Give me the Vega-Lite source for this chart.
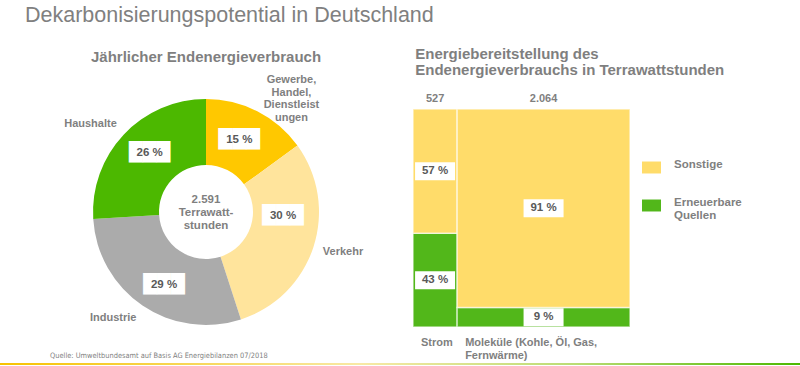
{
  "$schema": "https://vega.github.io/schema/vega-lite/v6.json",
  "background": "white",
  "padding": {"left": 0, "top": 4, "right": 0, "bottom": 0},
  "bounds": "flush",
  "spacing": 254,
  "title": {
    "text": "Dekarbonisierungspotential in Deutschland",
    "anchor": "start",
    "frame": "group",
    "dx": 25,
    "fontSize": 21.5,
    "fontWeight": "normal",
    "font": "Liberation Sans",
    "color": "#808080",
    "offset": 21
  },
  "config": {
    "view": {"stroke": null},
    "font": "Liberation Sans",
    "locale": {"number": {"decimal": ",", "thousands": ".", "grouping": [3], "currency": ["", " €"]}}
  },
  "vconcat": [
    {
      "hconcat": [
        {
          "width": 412,
          "height": 206,
          "title": {
            "text": "Jährlicher Endenergieverbrauch",
            "anchor": "middle",
            "fontSize": 15,
            "fontWeight": "bold",
            "color": "#7f7f7f",
            "offset": 3
          },
          "data": {
            "values": [
              {"sector": "Gewerbe, Handel, Dienstleistungen", "name": "Gewerbe,\nHandel,\nDienstleist\nungen", "o": 1, "pct": 15, "label": "15 %"},
              {"sector": "Verkehr", "name": "Verkehr", "o": 2, "pct": 30, "label": "30 %"},
              {"sector": "Industrie", "name": "Industrie", "o": 3, "pct": 29, "label": "29 %"},
              {"sector": "Haushalte", "name": "Haushalte", "o": 4, "pct": 26, "label": "26 %"}
            ]
          },
          "encoding": {
            "theta": {"field": "pct", "type": "quantitative", "stack": true},
            "order": {"field": "o", "type": "quantitative"},
            "detail": {"field": "sector", "type": "nominal"}
          },
          "layer": [
            {
              "mark": {"type": "arc", "outerRadius": 113, "innerRadius": 47},
              "encoding": {
                "color": {
                  "field": "sector",
                  "type": "nominal",
                  "scale": {
                    "domain": ["Gewerbe, Handel, Dienstleistungen", "Verkehr", "Industrie", "Haushalte"],
                    "range": ["#FFC800", "#FFE49C", "#ABABAB", "#4CB800"]
                  },
                  "legend": null
                }
              }
            },
            {
              "mark": {"type": "text", "radius": 80, "dx": -3, "dy": -1, "font": "DejaVu Sans", "fontSize": 18, "color": "white", "baseline": "middle"},
              "encoding": {"text": {"condition": {"test": "datum.o === 1", "value": "███"}, "value": ""}}
            },
            {
              "mark": {"type": "text", "radius": 80, "dx": 1, "dy": -21, "font": "DejaVu Sans", "fontSize": 18, "color": "white", "baseline": "middle"},
              "encoding": {"text": {"condition": {"test": "datum.o === 2", "value": "███"}, "value": ""}}
            },
            {
              "mark": {"type": "text", "radius": 80, "dx": 3, "dy": 7, "font": "DejaVu Sans", "fontSize": 18, "color": "white", "baseline": "middle"},
              "encoding": {"text": {"condition": {"test": "datum.o === 3", "value": "███"}, "value": ""}}
            },
            {
              "mark": {"type": "text", "radius": 80, "dx": 2, "dy": -4, "font": "DejaVu Sans", "fontSize": 18, "color": "white", "baseline": "middle"},
              "encoding": {"text": {"condition": {"test": "datum.o === 4", "value": "███"}, "value": ""}}
            },
            {
              "mark": {"type": "text", "radius": 80, "dx": -3, "dy": -1, "fontSize": 11.5, "fontWeight": "bold", "color": "#595959", "baseline": "middle"},
              "encoding": {"text": {"condition": {"test": "datum.o === 1", "field": "label"}, "value": ""}}
            },
            {
              "mark": {"type": "text", "radius": 80, "dx": 1, "dy": -21, "fontSize": 11.5, "fontWeight": "bold", "color": "#595959", "baseline": "middle"},
              "encoding": {"text": {"condition": {"test": "datum.o === 2", "field": "label"}, "value": ""}}
            },
            {
              "mark": {"type": "text", "radius": 80, "dx": 3, "dy": 7, "fontSize": 11.5, "fontWeight": "bold", "color": "#595959", "baseline": "middle"},
              "encoding": {"text": {"condition": {"test": "datum.o === 3", "field": "label"}, "value": ""}}
            },
            {
              "mark": {"type": "text", "radius": 80, "dx": 2, "dy": -4, "fontSize": 11.5, "fontWeight": "bold", "color": "#595959", "baseline": "middle"},
              "encoding": {"text": {"condition": {"test": "datum.o === 4", "field": "label"}, "value": ""}}
            },
            {
              "mark": {"type": "text", "radius": 142, "dx": 21, "dy": -5, "fontSize": 11, "fontWeight": "bold", "color": "#7f7f7f", "baseline": "middle", "lineBreak": "\n", "lineHeight": 12.4},
              "encoding": {"text": {"condition": {"test": "datum.o === 1", "field": "name"}, "value": ""}}
            },
            {
              "mark": {"type": "text", "radius": 142, "dx": 2, "dy": -4, "fontSize": 11, "fontWeight": "bold", "color": "#7f7f7f", "baseline": "middle"},
              "encoding": {"text": {"condition": {"test": "datum.o === 2", "field": "name"}, "value": ""}}
            },
            {
              "mark": {"type": "text", "radius": 142, "dx": -13, "dy": -11, "fontSize": 11, "fontWeight": "bold", "color": "#7f7f7f", "baseline": "middle"},
              "encoding": {"text": {"condition": {"test": "datum.o === 3", "field": "name"}, "value": ""}}
            },
            {
              "mark": {"type": "text", "radius": 142, "dx": -12, "dy": 9, "fontSize": 11, "fontWeight": "bold", "color": "#7f7f7f", "baseline": "middle"},
              "encoding": {"text": {"condition": {"test": "datum.o === 4", "field": "name"}, "value": ""}}
            },
            {
              "data": {"values": [{"t": "2.591\nTerrawatt-\nstunden"}]},
              "mark": {"type": "text", "dy": -12, "fontSize": 11.5, "fontWeight": "bold", "color": "#7f7f7f", "baseline": "middle", "lineBreak": "\n", "lineHeight": 13},
              "encoding": {"text": {"field": "t", "type": "nominal"}, "theta": null, "order": null, "detail": null}
            }
          ]
        },
        {
          "width": 217,
          "height": 218,
          "title": {
            "text": ["Energiebereitstellung des", "Endenergieverbrauchs in Terrawattstunden"],
            "anchor": "start",
            "dx": 3,
            "fontSize": 15,
            "fontWeight": "bold",
            "color": "#7f7f7f",
            "lineHeight": 16,
            "offset": 15
          },
          "data": {
            "values": [
              {"cat": "Strom", "source": "Erneuerbare Quellen", "pct": 43, "total": 527, "label": "43 %"},
              {"cat": "Strom", "source": "Sonstige", "pct": 57, "total": 527, "label": "57 %"},
              {"cat": "Moleküle (Kohle, Öl, Gas,\nFernwärme)", "source": "Erneuerbare Quellen", "pct": 9, "total": 2064, "label": "9 %"},
              {"cat": "Moleküle (Kohle, Öl, Gas,\nFernwärme)", "source": "Sonstige", "pct": 91, "total": 2064, "label": "91 %"}
            ]
          },
          "transform": [
            {"stack": "total", "groupby": ["source"], "sort": [{"field": "cat", "order": "descending"}], "as": ["x0", "x1"]},
            {"stack": "pct", "groupby": ["cat"], "sort": [{"field": "source", "order": "ascending"}], "as": ["y0", "y1"]}
          ],
          "layer": [
            {
              "mark": {"type": "rect", "stroke": "white", "strokeWidth": 1.5, "strokeOpacity": 0.6},
              "encoding": {
                "x": {"field": "x0", "type": "quantitative", "scale": {"domain": [0, 2591], "nice": false}, "axis": null},
                "x2": {"field": "x1"},
                "y": {"field": "y0", "type": "quantitative", "scale": {"domain": [0, 100], "nice": false}, "axis": null},
                "y2": {"field": "y1"},
                "color": {
                  "field": "source",
                  "type": "nominal",
                  "scale": {"domain": ["Sonstige", "Erneuerbare Quellen"], "range": ["#FFDC6A", "#52B71A"]},
                  "legend": {
                    "orient": "none",
                    "legendX": 229,
                    "legendY": 49,
                    "title": null,
                    "padding": 0,
                    "symbolType": "M-1,-0.63H1V0.63H-1Z",
                    "symbolSize": 361,
                    "symbolStrokeWidth": 0,
                    "symbolOpacity": 1,
                    "labelFontSize": 11.5,
                    "labelFontWeight": "bold",
                    "labelColor": "#7f7f7f",
                    "labelExpr": "split(datum.label, ' ')",
                    "labelBaseline": "alphabetic",
                    "labelOffset": 13,
                    "rowPadding": 22
                  }
                }
              }
            },
            {
              "transform": [
                {"fold": ["x0", "x1"], "as": ["xk", "xv"]},
                {"aggregate": [{"op": "mean", "field": "xv", "as": "xm"}], "groupby": ["cat", "source", "label", "y0", "y1"]},
                {"fold": ["y0", "y1"], "as": ["yk", "yv"]},
                {"aggregate": [{"op": "mean", "field": "yv", "as": "ym"}], "groupby": ["cat", "source", "label", "xm"]}
              ],
              "mark": {"type": "point", "shape": "M-1,-0.45H1V0.45H-1Z", "size": 1600, "filled": true, "color": "white", "opacity": 1, "strokeWidth": 0},
              "encoding": {
                "x": {"field": "xm", "type": "quantitative", "axis": null},
                "y": {"field": "ym", "type": "quantitative", "axis": null}
              }
            },
            {
              "transform": [
                {"fold": ["x0", "x1"], "as": ["xk", "xv"]},
                {"aggregate": [{"op": "mean", "field": "xv", "as": "xm"}], "groupby": ["cat", "source", "label", "y0", "y1"]},
                {"fold": ["y0", "y1"], "as": ["yk", "yv"]},
                {"aggregate": [{"op": "mean", "field": "yv", "as": "ym"}], "groupby": ["cat", "source", "label", "xm"]}
              ],
              "mark": {"type": "text", "fontSize": 11.5, "fontWeight": "bold", "color": "#595959", "baseline": "middle"},
              "encoding": {
                "x": {"field": "xm", "type": "quantitative", "axis": null},
                "y": {"field": "ym", "type": "quantitative", "axis": null},
                "text": {"field": "label", "type": "nominal"}
              }
            },
            {
              "transform": [
                {"filter": "datum.source === 'Sonstige'"},
                {"fold": ["x0", "x1"], "as": ["xk", "xv"]},
                {"aggregate": [{"op": "mean", "field": "xv", "as": "xm"}], "groupby": ["cat", "total"]}
              ],
              "mark": {"type": "text", "fontSize": 11, "fontWeight": "bold", "color": "#7f7f7f", "baseline": "middle", "dy": -10},
              "encoding": {
                "x": {"field": "xm", "type": "quantitative", "axis": null},
                "y": {"datum": 100, "type": "quantitative", "axis": null},
                "text": {"field": "total", "type": "quantitative", "format": ",d"}
              }
            },
            {
              "transform": [{"filter": "datum.source === 'Sonstige'"}],
              "mark": {"type": "text", "fontSize": 11, "fontWeight": "bold", "color": "#7f7f7f", "baseline": "top", "align": "left", "dx": 8, "dy": 10, "lineBreak": "\n", "lineHeight": 12.5},
              "encoding": {
                "x": {"field": "x0", "type": "quantitative", "axis": null},
                "y": {"datum": 0, "type": "quantitative", "axis": null},
                "text": {"field": "cat", "type": "nominal"}
              }
            }
          ]
        }
      ],
      "spacing": 1,
      "bounds": "flush",
      "resolve": {"scale": {"color": "independent"}, "legend": {"color": "independent"}}
    },
    {
      "width": 800,
      "height": 2,
      "title": {
        "text": "Quelle: Umweltbundesamt auf Basis AG Energiebilanzen 07/2018",
        "anchor": "start",
        "dx": 50,
        "fontSize": 7.4,
        "font": "Liberation Sans Narrow, DejaVu Sans Condensed, sans-serif",
        "fontWeight": "normal",
        "color": "#7f7f7f",
        "offset": 4
      },
      "data": {"values": [{"line": "footer"}]},
      "mark": {
        "type": "rect",
        "fill": {
          "gradient": "linear",
          "x1": 0, "y1": 0, "x2": 1, "y2": 0,
          "stops": [
            {"offset": 0, "color": "#F7C200"},
            {"offset": 0.45, "color": "#F8E9A6"},
            {"offset": 0.72, "color": "#B9DC74"},
            {"offset": 1, "color": "#4CB800"}
          ]
        }
      },
      "encoding": {}
    }
  ]
}
